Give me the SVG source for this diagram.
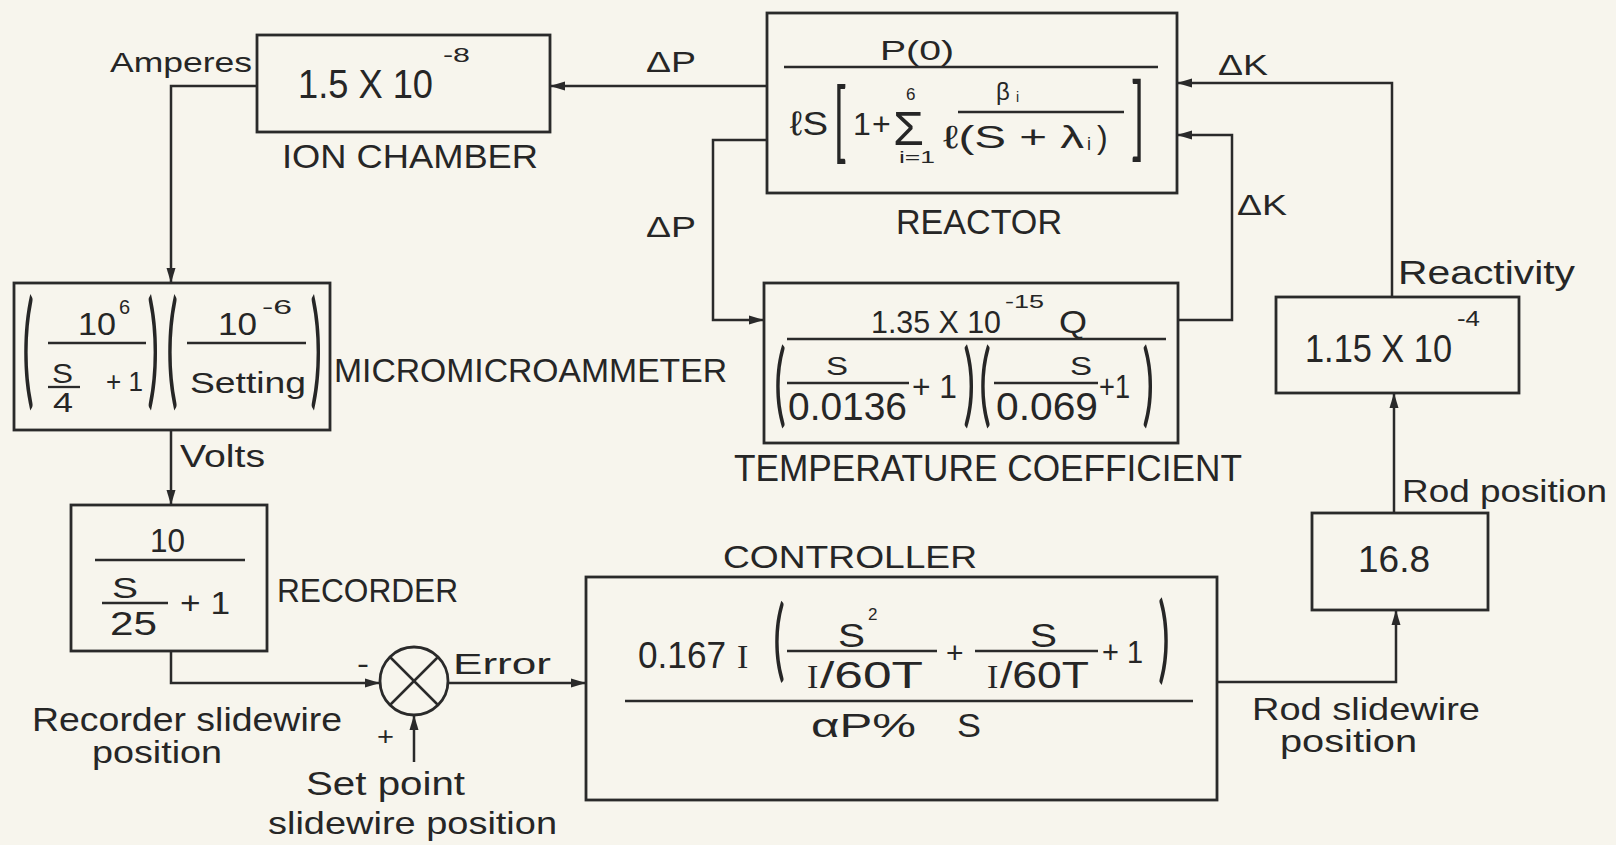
<svg xmlns="http://www.w3.org/2000/svg" width="1616" height="845" viewBox="0 0 1616 845">
<defs>
<style>
.bx{fill:none;stroke:#2a2a2a;stroke-width:2.8}
.ln{fill:none;stroke:#2a2a2a;stroke-width:2.5}
.fr{fill:none;stroke:#2a2a2a;stroke-width:2.3}
text{font-family:"Liberation Sans","DejaVu Sans",sans-serif;fill:#262626}
.sf{font-family:"Liberation Serif","DejaVu Serif",serif}
.pa{font-family:Lato,Roboto,"Open Sans",sans-serif;font-weight:400;font-size:44px;text-anchor:middle}
</style>
<marker id="ah" markerUnits="userSpaceOnUse" markerWidth="16" markerHeight="10" refX="15" refY="5" orient="auto">
<path d="M0,0.5 L15,5 L0,9.5 z" fill="#2a2a2a"/>
</marker>
</defs>
<rect width="1616" height="845" fill="#f7f5ed"/>

<g id="connectors">
<path class="ln" d="M257,86 H171 V283" marker-end="url(#ah)"/>
<path class="ln" d="M171,430 V505" marker-end="url(#ah)"/>
<path class="ln" d="M171,651 V683 H380" marker-end="url(#ah)"/>
<path class="ln" d="M414,762 V715" marker-end="url(#ah)"/>
<path class="ln" d="M448,683 H586" marker-end="url(#ah)"/>
<path class="ln" d="M1217,682 H1396 V610" marker-end="url(#ah)"/>
<path class="ln" d="M1394,513 V393" marker-end="url(#ah)"/>
<path class="ln" d="M1392,297 V83 H1177" marker-end="url(#ah)"/>
<path class="ln" d="M767,86 H550" marker-end="url(#ah)"/>
<path class="ln" d="M767,140 H713 V320 H764" marker-end="url(#ah)"/>
<path class="ln" d="M1178,320 H1232 V135 H1177" marker-end="url(#ah)"/>
<text x="646" y="72" font-size="30" textLength="50" lengthAdjust="spacingAndGlyphs">ΔP</text>
<text x="646" y="237" font-size="30" textLength="50" lengthAdjust="spacingAndGlyphs">ΔP</text>
<text x="1218" y="75" font-size="30" textLength="50" lengthAdjust="spacingAndGlyphs">ΔK</text>
<text x="1237" y="215" font-size="30" textLength="50" lengthAdjust="spacingAndGlyphs">ΔK</text>
<text x="110" y="72" font-size="28" textLength="142" lengthAdjust="spacingAndGlyphs">Amperes</text>
<text x="180" y="467" font-size="32" textLength="85" lengthAdjust="spacingAndGlyphs">Volts</text>
<text x="32" y="731" font-size="34" textLength="310" lengthAdjust="spacingAndGlyphs">Recorder slidewire</text>
<text x="92" y="763" font-size="32" textLength="130" lengthAdjust="spacingAndGlyphs">position</text>
<text x="453" y="674" font-size="30" textLength="98" lengthAdjust="spacingAndGlyphs">Error</text>
<text x="306" y="795" font-size="34" textLength="159" lengthAdjust="spacingAndGlyphs">Set point</text>
<text x="268" y="834" font-size="32" textLength="289" lengthAdjust="spacingAndGlyphs">slidewire position</text>
<text x="1398" y="284" font-size="34" textLength="177" lengthAdjust="spacingAndGlyphs">Reactivity</text>
<text x="1402" y="502" font-size="32" textLength="205" lengthAdjust="spacingAndGlyphs">Rod position</text>
<text x="1252" y="720" font-size="32" textLength="228" lengthAdjust="spacingAndGlyphs">Rod slidewire</text>
<text x="1280" y="752" font-size="32" textLength="137" lengthAdjust="spacingAndGlyphs">position</text>
</g>

<g id="ion-chamber">
<rect class="bx" x="257" y="35" width="293" height="97"/>
<text font-size="40"><tspan x="298" y="98" textLength="135" lengthAdjust="spacingAndGlyphs">1.5 X 10</tspan><tspan x="443" y="62" font-size="20" textLength="27" lengthAdjust="spacingAndGlyphs">-8</tspan></text>
<text x="282" y="168" font-size="34" textLength="256" lengthAdjust="spacingAndGlyphs">ION CHAMBER</text>
</g>

<g id="reactor">
<rect class="bx" x="767" y="13" width="410" height="180"/>
<text x="880" y="60" font-size="28" textLength="74" lengthAdjust="spacingAndGlyphs">P(0)</text>
<line class="fr" x1="784" y1="67" x2="1158" y2="67"/>
<text class="pa" transform="translate(840,151) scale(1,1.97)">[</text>
<text class="pa" transform="translate(1138,149) scale(1,2.09)">]</text>
<text font-size="32"><tspan x="790" y="135" font-size="34" textLength="38" lengthAdjust="spacingAndGlyphs">ℓS</tspan><tspan x="853" y="135">1</tspan><tspan x="872" y="135">+</tspan><tspan x="893" y="145" font-size="48" textLength="31" lengthAdjust="spacingAndGlyphs">Σ</tspan><tspan x="906" y="100" font-size="17">6</tspan><tspan x="899" y="163" font-size="16" textLength="36" lengthAdjust="spacingAndGlyphs">i=1</tspan><tspan x="996" y="100" font-size="24">β</tspan><tspan x="1016" y="102" font-size="14">i</tspan><tspan x="943" y="148" textLength="141" lengthAdjust="spacingAndGlyphs">ℓ(S + λ</tspan><tspan x="1087" y="150" font-size="18">i</tspan><tspan x="1097" y="148">)</tspan></text>
<line class="fr" x1="958" y1="112" x2="1124" y2="112"/>
<text x="896" y="234" font-size="35" textLength="166" lengthAdjust="spacingAndGlyphs">REACTOR</text>
</g>

<g id="micromicroammeter">
<rect class="bx" x="14" y="283" width="316" height="147"/>
<text class="pa" transform="translate(28,392) scale(1,2.88)">(</text>
<text class="pa" transform="translate(153,392) scale(1,2.88)">)</text>
<text class="pa" transform="translate(172,392) scale(1,2.88)">(</text>
<text class="pa" transform="translate(316,392) scale(1,2.88)">)</text>
<text font-size="32"><tspan x="78" y="335" textLength="38" lengthAdjust="spacingAndGlyphs">10</tspan><tspan x="119" y="314" font-size="20">6</tspan></text>
<line class="fr" x1="48" y1="343" x2="146" y2="343"/>
<text x="52" y="383" font-size="28" textLength="21" lengthAdjust="spacingAndGlyphs">S</text>
<line class="fr" x1="48" y1="387" x2="80" y2="387"/>
<text x="53" y="412" font-size="28" textLength="20" lengthAdjust="spacingAndGlyphs">4</text>
<text x="106" y="391" font-size="28" textLength="37" lengthAdjust="spacingAndGlyphs">+ 1</text>
<text font-size="32"><tspan x="218" y="335" textLength="39" lengthAdjust="spacingAndGlyphs">10</tspan><tspan x="262" y="314" font-size="20" textLength="30" lengthAdjust="spacingAndGlyphs">-6</tspan></text>
<line class="fr" x1="187" y1="343" x2="306" y2="343"/>
<text x="190" y="393" font-size="30" textLength="116" lengthAdjust="spacingAndGlyphs">Setting</text>
<text x="334" y="382" font-size="34" textLength="393" lengthAdjust="spacingAndGlyphs">MICROMICROAMMETER</text>
</g>

<g id="recorder">
<rect class="bx" x="71" y="505" width="196" height="146"/>
<text x="150" y="552" font-size="33" textLength="35" lengthAdjust="spacingAndGlyphs">10</text>
<line class="fr" x1="95" y1="560" x2="245" y2="560"/>
<text x="112" y="598" font-size="29" textLength="26" lengthAdjust="spacingAndGlyphs">S</text>
<line class="fr" x1="102" y1="603" x2="168" y2="603"/>
<text x="110" y="635" font-size="34" textLength="47" lengthAdjust="spacingAndGlyphs">25</text>
<text x="180" y="614" font-size="32" textLength="50" lengthAdjust="spacingAndGlyphs">+ 1</text>
<text x="277" y="602" font-size="34" textLength="181" lengthAdjust="spacingAndGlyphs">RECORDER</text>
</g>

<g id="summing-junction">
<circle class="bx" cx="414" cy="681" r="34"/>
<line class="ln" x1="390" y1="657" x2="438" y2="705"/>
<line class="ln" x1="438" y1="657" x2="390" y2="705"/>
<text x="357" y="673" font-size="28" textLength="12" lengthAdjust="spacingAndGlyphs">-</text>
<text x="377" y="745" font-size="26" textLength="17" lengthAdjust="spacingAndGlyphs">+</text>
</g>

<g id="controller">
<rect class="bx" x="586" y="577" width="631" height="223"/>
<text x="723" y="568" font-size="32" textLength="254" lengthAdjust="spacingAndGlyphs">CONTROLLER</text>
<text class="pa" transform="translate(779,670) scale(1,2.04)">(</text>
<text class="pa" transform="translate(1164,671) scale(1,2.16)">)</text>
<text font-size="36"><tspan x="638" y="668" textLength="88" lengthAdjust="spacingAndGlyphs">0.167</tspan><tspan class="sf" x="737" y="668" font-size="34">I</tspan></text>
<text font-size="34"><tspan x="838" y="647" textLength="27" lengthAdjust="spacingAndGlyphs">S</tspan><tspan x="868" y="620" font-size="17">2</tspan></text>
<line class="fr" x1="787" y1="651" x2="937" y2="651"/>
<text font-size="36"><tspan class="sf" x="807" y="688" font-size="34">I</tspan><tspan x="820" y="688" textLength="103" lengthAdjust="spacingAndGlyphs">/60T</tspan></text>
<text x="946" y="663" font-size="30">+</text>
<text x="1030" y="647" font-size="34" textLength="27" lengthAdjust="spacingAndGlyphs">S</text>
<line class="fr" x1="975" y1="651" x2="1098" y2="651"/>
<text font-size="36"><tspan class="sf" x="987" y="688" font-size="34">I</tspan><tspan x="1000" y="688" textLength="89" lengthAdjust="spacingAndGlyphs">/60T</tspan></text>
<text x="1102" y="663" font-size="32" textLength="41" lengthAdjust="spacingAndGlyphs">+ 1</text>
<line class="fr" x1="625" y1="701" x2="1193" y2="701"/>
<text x="811" y="737" font-size="34" textLength="105" lengthAdjust="spacingAndGlyphs">αP%</text>
<text x="957" y="737" font-size="34" textLength="24" lengthAdjust="spacingAndGlyphs">S</text>
</g>

<g id="temperature-coefficient">
<rect class="bx" x="764" y="283" width="414" height="160"/>
<text font-size="32"><tspan x="871" y="333" textLength="130" lengthAdjust="spacingAndGlyphs">1.35 X 10</tspan><tspan x="1005" y="308" font-size="19" textLength="39" lengthAdjust="spacingAndGlyphs">-15</tspan><tspan x="1059" y="333" textLength="28" lengthAdjust="spacingAndGlyphs">Q</tspan></text>
<line class="fr" x1="787" y1="339" x2="1166" y2="339"/>
<text class="pa" transform="translate(780,415) scale(1,2.09)">(</text>
<text class="pa" transform="translate(969,415) scale(1,2.09)">)</text>
<text class="pa" transform="translate(985,415) scale(1,2.09)">(</text>
<text class="pa" transform="translate(1148,415) scale(1,2.09)">)</text>
<text x="826" y="375" font-size="26" textLength="22" lengthAdjust="spacingAndGlyphs">S</text>
<line class="fr" x1="787" y1="383" x2="909" y2="383"/>
<text x="788" y="420" font-size="38" textLength="119" lengthAdjust="spacingAndGlyphs">0.0136</text>
<text x="912" y="398" font-size="34" textLength="45" lengthAdjust="spacingAndGlyphs">+ 1</text>
<text x="1070" y="375" font-size="26" textLength="22" lengthAdjust="spacingAndGlyphs">S</text>
<line class="fr" x1="994" y1="383" x2="1098" y2="383"/>
<text x="996" y="420" font-size="38" textLength="102" lengthAdjust="spacingAndGlyphs">0.069</text>
<text x="1099" y="398" font-size="34" textLength="31" lengthAdjust="spacingAndGlyphs">+1</text>
<text x="734" y="481" font-size="37" textLength="508" lengthAdjust="spacingAndGlyphs">TEMPERATURE COEFFICIENT</text>
</g>

<g id="reactivity-gain">
<rect class="bx" x="1276" y="297" width="243" height="96"/>
<text font-size="38"><tspan x="1305" y="362" textLength="147" lengthAdjust="spacingAndGlyphs">1.15 X 10</tspan><tspan x="1457" y="326" font-size="22" textLength="23" lengthAdjust="spacingAndGlyphs">-4</tspan></text>
</g>

<g id="rod-gain">
<rect class="bx" x="1312" y="513" width="176" height="97"/>
<text x="1358" y="572" font-size="37" textLength="72" lengthAdjust="spacingAndGlyphs">16.8</text>
</g>
</svg>
